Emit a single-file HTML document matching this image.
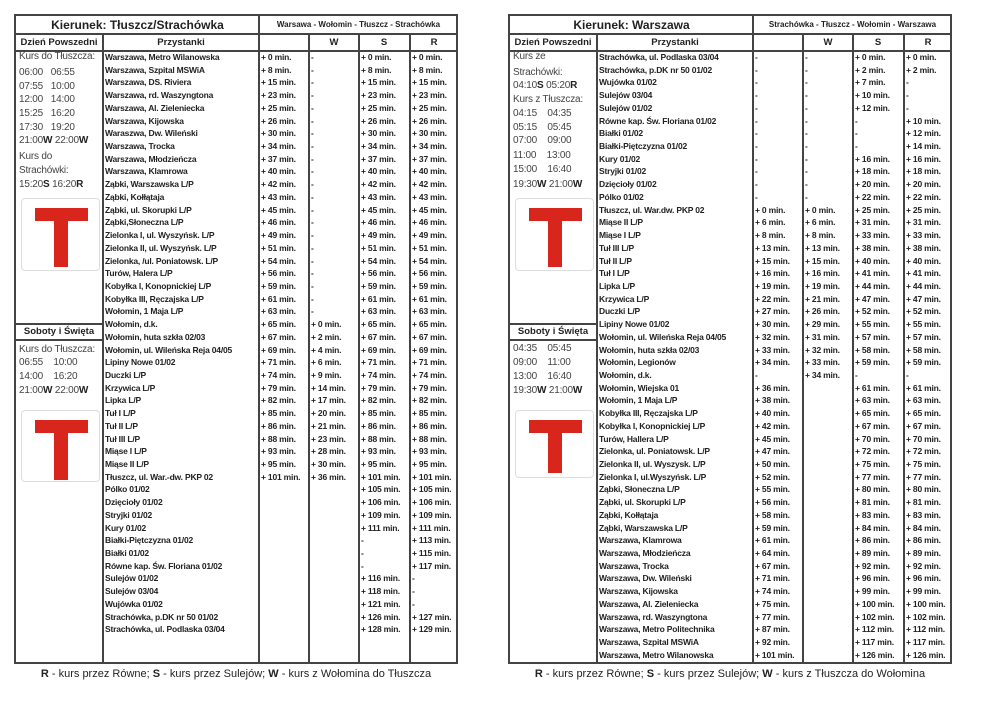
<!DOCTYPE html>
<html><head><meta charset="utf-8"><style>
*{margin:0;padding:0;box-sizing:border-box}
body{width:992px;height:702px;background:#fff;position:relative;font-family:"Liberation Sans",Arial,sans-serif;color:#222;overflow:hidden}
.t{position:absolute;top:14px;width:444px;height:650px;border:2px solid #444}
.vl{position:absolute;top:17px;bottom:0;width:1.5px;background:#444}
.hl{position:absolute;height:1.5px;background:#444}
.h1{position:absolute;top:0;height:18px;line-height:18px;text-align:center;font-weight:bold}
.h2{position:absolute;top:18px;height:17px;line-height:17px;text-align:center;font-weight:bold;font-size:9.5px}
.rows{position:absolute;left:87px;top:35px;right:0}
.r{display:grid;grid-template-columns:156px 50px 50px 51px 50px;height:12.73px;line-height:12.73px;font-size:8.5px;font-weight:bold;white-space:nowrap;letter-spacing:-0.2px}
.r span{padding-left:2px;overflow:hidden}
.lc{position:absolute;left:3px;font-size:10px;color:#444;letter-spacing:-0.2px;white-space:nowrap;line-height:12px}
.lc b{color:#222}
.logo{position:absolute;left:5px;width:79px;border:1px solid #ddd;border-radius:4px;background:#fff}
.bar{position:absolute;background:#d9261c}
.ft{position:absolute;top:668px;width:444px;text-align:center;font-size:11px;color:#222}
</style></head><body>

<!-- LEFT TABLE -->
<div class="t" style="left:14px">
<div class="h1" style="left:0;width:243px;font-size:12px">Kierunek: Tłuszcz/Strachówka</div>
<div class="h1" style="left:243px;width:199px;font-size:8px">Warsawa - Wołomin - Tłuszcz - Strachówka</div>
<div class="hl" style="left:0;right:0;top:17px"></div>
<div class="hl" style="left:0;right:0;top:34px"></div>
<div class="vl" style="left:242px;top:0"></div>
<div class="vl" style="left:86px"></div>
<div class="vl" style="left:292px"></div>
<div class="vl" style="left:342px"></div>
<div class="vl" style="left:393px"></div>
<div class="h2" style="left:0;width:86px">Dzień Powszedni</div>
<div class="h2" style="left:87px;width:156px">Przystanki</div>
<div class="h2" style="left:293px;width:50px">W</div>
<div class="h2" style="left:343px;width:50px">S</div>
<div class="h2" style="left:394px;width:48px">R</div>
<div class="hl" style="left:0;width:87px;top:307px"></div>
<div class="hl" style="left:0;width:87px;top:323px"></div>
<div class="h2" style="left:0;width:86px;top:307px">Soboty i Święta</div>

<div class="lc" style="top:35px">Kurs do Tłuszcza:</div>
<div class="lc" style="top:51px">06:00&nbsp;&nbsp; 06:55</div>
<div class="lc" style="top:65px">07:55&nbsp;&nbsp; 10:00</div>
<div class="lc" style="top:78px">12:00&nbsp;&nbsp; 14:00</div>
<div class="lc" style="top:92px">15:25&nbsp;&nbsp; 16:20</div>
<div class="lc" style="top:106px">17:30&nbsp;&nbsp; 19:20</div>
<div class="lc" style="top:119px">21:00<b>W</b> 22:00<b>W</b></div>
<div class="lc" style="top:135px">Kurs do</div>
<div class="lc" style="top:149px">Strachówki:</div>
<div class="lc" style="top:163px">15:20<b>S</b> 16:20<b>R</b></div>
<div class="lc" style="top:328px">Kurs do Tłuszcza:</div>
<div class="lc" style="top:341px">06:55&nbsp;&nbsp;&nbsp; 10:00</div>
<div class="lc" style="top:355px">14:00&nbsp;&nbsp;&nbsp; 16:20</div>
<div class="lc" style="top:369px">21:00<b>W</b> 22:00<b>W</b></div>

<div class="logo" style="top:182px;height:73px"><div class="bar" style="left:13px;top:9px;width:53px;height:13px"></div><div class="bar" style="left:32px;top:9px;width:14px;height:59px"></div></div>
<div class="logo" style="top:394px;height:72px"><div class="bar" style="left:13px;top:9px;width:53px;height:13px"></div><div class="bar" style="left:32px;top:9px;width:14px;height:60px"></div></div>

<div class="rows">
<div class="r"><span>Warszawa, Metro Wilanowska</span><span>+ 0 min.</span><span>-</span><span>+ 0 min.</span><span>+ 0 min.</span></div>
<div class="r"><span>Warszawa, Szpital MSWiA</span><span>+ 8 min.</span><span>-</span><span>+ 8 min.</span><span>+ 8 min.</span></div>
<div class="r"><span>Warszawa, DS. Riviera</span><span>+ 15 min.</span><span>-</span><span>+ 15 min.</span><span>+ 15 min.</span></div>
<div class="r"><span>Warszawa, rd. Waszyngtona</span><span>+ 23 min.</span><span>-</span><span>+ 23 min.</span><span>+ 23 min.</span></div>
<div class="r"><span>Warszawa, Al. Zieleniecka</span><span>+ 25 min.</span><span>-</span><span>+ 25 min.</span><span>+ 25 min.</span></div>
<div class="r"><span>Warszawa, Kijowska</span><span>+ 26 min.</span><span>-</span><span>+ 26 min.</span><span>+ 26 min.</span></div>
<div class="r"><span>Waraszwa, Dw. Wileński</span><span>+ 30 min.</span><span>-</span><span>+ 30 min.</span><span>+ 30 min.</span></div>
<div class="r"><span>Warszawa, Trocka</span><span>+ 34 min.</span><span>-</span><span>+ 34 min.</span><span>+ 34 min.</span></div>
<div class="r"><span>Warszawa, Młodzieńcza</span><span>+ 37 min.</span><span>-</span><span>+ 37 min.</span><span>+ 37 min.</span></div>
<div class="r"><span>Warszawa, Klamrowa</span><span>+ 40 min.</span><span>-</span><span>+ 40 min.</span><span>+ 40 min.</span></div>
<div class="r"><span>Ząbki, Warszawska L/P</span><span>+ 42 min.</span><span>-</span><span>+ 42 min.</span><span>+ 42 min.</span></div>
<div class="r"><span>Ząbki, Kołłątaja</span><span>+ 43 min.</span><span>-</span><span>+ 43 min.</span><span>+ 43 min.</span></div>
<div class="r"><span>Ząbki, ul. Skorupki L/P</span><span>+ 45 min.</span><span>-</span><span>+ 45 min.</span><span>+ 45 min.</span></div>
<div class="r"><span>Ząbki,Słoneczna L/P</span><span>+ 46 min.</span><span>-</span><span>+ 46 min.</span><span>+ 46 min.</span></div>
<div class="r"><span>Zielonka I, ul. Wyszyńsk. L/P</span><span>+ 49 min.</span><span>-</span><span>+ 49 min.</span><span>+ 49 min.</span></div>
<div class="r"><span>Zielonka II, ul. Wyszyńsk. L/P</span><span>+ 51 min.</span><span>-</span><span>+ 51 min.</span><span>+ 51 min.</span></div>
<div class="r"><span>Zielonka, /ul. Poniatowsk. L/P</span><span>+ 54 min.</span><span>-</span><span>+ 54 min.</span><span>+ 54 min.</span></div>
<div class="r"><span>Turów, Halera L/P</span><span>+ 56 min.</span><span>-</span><span>+ 56 min.</span><span>+ 56 min.</span></div>
<div class="r"><span>Kobyłka I, Konopnickiej L/P</span><span>+ 59 min.</span><span>-</span><span>+ 59 min.</span><span>+ 59 min.</span></div>
<div class="r"><span>Kobyłka III, Ręczajska L/P</span><span>+ 61 min.</span><span>-</span><span>+ 61 min.</span><span>+ 61 min.</span></div>
<div class="r"><span>Wołomin, 1 Maja L/P</span><span>+ 63 min.</span><span>-</span><span>+ 63 min.</span><span>+ 63 min.</span></div>
<div class="r"><span>Wołomin, d.k.</span><span>+ 65 min.</span><span>+ 0 min.</span><span>+ 65 min.</span><span>+ 65 min.</span></div>
<div class="r"><span>Wołomin, huta szkła 02/03</span><span>+ 67 min.</span><span>+ 2 min.</span><span>+ 67 min.</span><span>+ 67 min.</span></div>
<div class="r"><span>Wołomin, ul. Wileńska Reja 04/05</span><span>+ 69 min.</span><span>+ 4 min.</span><span>+ 69 min.</span><span>+ 69 min.</span></div>
<div class="r"><span>Lipiny Nowe 01/02</span><span>+ 71 min.</span><span>+ 6 min.</span><span>+ 71 min.</span><span>+ 71 min.</span></div>
<div class="r"><span>Duczki L/P</span><span>+ 74 min.</span><span>+ 9 min.</span><span>+ 74 min.</span><span>+ 74 min.</span></div>
<div class="r"><span>Krzywica L/P</span><span>+ 79 min.</span><span>+ 14 min.</span><span>+ 79 min.</span><span>+ 79 min.</span></div>
<div class="r"><span>Lipka L/P</span><span>+ 82 min.</span><span>+ 17 min.</span><span>+ 82 min.</span><span>+ 82 min.</span></div>
<div class="r"><span>Tuł I L/P</span><span>+ 85 min.</span><span>+ 20 min.</span><span>+ 85 min.</span><span>+ 85 min.</span></div>
<div class="r"><span>Tuł II L/P</span><span>+ 86 min.</span><span>+ 21 min.</span><span>+ 86 min.</span><span>+ 86 min.</span></div>
<div class="r"><span>Tuł III L/P</span><span>+ 88 min.</span><span>+ 23 min.</span><span>+ 88 min.</span><span>+ 88 min.</span></div>
<div class="r"><span>Miąse I L/P</span><span>+ 93 min.</span><span>+ 28 min.</span><span>+ 93 min.</span><span>+ 93 min.</span></div>
<div class="r"><span>Miąse II L/P</span><span>+ 95 min.</span><span>+ 30 min.</span><span>+ 95 min.</span><span>+ 95 min.</span></div>
<div class="r"><span>Tłuszcz, ul. War.-dw. PKP 02</span><span>+ 101 min.</span><span>+ 36 min.</span><span>+ 101 min.</span><span>+ 101 min.</span></div>
<div class="r"><span>Pólko 01/02</span><span></span><span></span><span>+ 105 min.</span><span>+ 105 min.</span></div>
<div class="r"><span>Dzięcioły 01/02</span><span></span><span></span><span>+ 106 min.</span><span>+ 106 min.</span></div>
<div class="r"><span>Stryjki 01/02</span><span></span><span></span><span>+ 109 min.</span><span>+ 109 min.</span></div>
<div class="r"><span>Kury 01/02</span><span></span><span></span><span>+ 111 min.</span><span>+ 111 min.</span></div>
<div class="r"><span>Białki-Piętczyzna 01/02</span><span></span><span></span><span>-</span><span>+ 113 min.</span></div>
<div class="r"><span>Białki 01/02</span><span></span><span></span><span>-</span><span>+ 115 min.</span></div>
<div class="r"><span>Równe kap. Św. Floriana 01/02</span><span></span><span></span><span>-</span><span>+ 117 min.</span></div>
<div class="r"><span>Sulejów 01/02</span><span></span><span></span><span>+ 116 min.</span><span>-</span></div>
<div class="r"><span>Sulejów 03/04</span><span></span><span></span><span>+ 118 min.</span><span>-</span></div>
<div class="r"><span>Wujówka 01/02</span><span></span><span></span><span>+ 121 min.</span><span>-</span></div>
<div class="r"><span>Strachówka, p.DK nr 50 01/02</span><span></span><span></span><span>+ 126 min.</span><span>+ 127 min.</span></div>
<div class="r"><span>Strachówka, ul. Podlaska 03/04</span><span></span><span></span><span>+ 128 min.</span><span>+ 129 min.</span></div>
</div>
</div>
<div class="ft" style="left:14px"><b>R</b> - kurs przez Równe; <b>S</b> - kurs przez Sulejów; <b>W</b> - kurs z Wołomina do Tłuszcza</div>

<!-- RIGHT TABLE -->
<div class="t" style="left:508px">
<div class="h1" style="left:0;width:243px;font-size:12px">Kierunek: Warszawa</div>
<div class="h1" style="left:243px;width:199px;font-size:8px">Strachówka - Tłuszcz - Wołomin - Warszawa</div>
<div class="hl" style="left:0;right:0;top:17px"></div>
<div class="hl" style="left:0;right:0;top:34px"></div>
<div class="vl" style="left:242px;top:0"></div>
<div class="vl" style="left:86px"></div>
<div class="vl" style="left:292px"></div>
<div class="vl" style="left:342px"></div>
<div class="vl" style="left:393px"></div>
<div class="h2" style="left:0;width:86px">Dzień Powszedni</div>
<div class="h2" style="left:87px;width:156px">Przystanki</div>
<div class="h2" style="left:293px;width:50px">W</div>
<div class="h2" style="left:343px;width:50px">S</div>
<div class="h2" style="left:394px;width:48px">R</div>
<div class="hl" style="left:0;width:87px;top:307px"></div>
<div class="hl" style="left:0;width:87px;top:323px"></div>
<div class="h2" style="left:0;width:86px;top:307px">Soboty i Święta</div>

<div class="lc" style="top:35px">Kurs ze</div>
<div class="lc" style="top:51px">Strachówki:</div>
<div class="lc" style="top:64px">04:10<b>S</b> 05:20<b>R</b></div>
<div class="lc" style="top:78px">Kurs z Tłuszcza:</div>
<div class="lc" style="top:92px">04:15&nbsp;&nbsp;&nbsp; 04:35</div>
<div class="lc" style="top:106px">05:15&nbsp;&nbsp;&nbsp; 05:45</div>
<div class="lc" style="top:119px">07:00&nbsp;&nbsp;&nbsp; 09:00</div>
<div class="lc" style="top:134px">11:00&nbsp;&nbsp;&nbsp; 13:00</div>
<div class="lc" style="top:148px">15:00&nbsp;&nbsp;&nbsp; 16:40</div>
<div class="lc" style="top:163px">19:30<b>W</b> 21:00<b>W</b></div>
<div class="lc" style="top:327px">04:35&nbsp;&nbsp;&nbsp; 05:45</div>
<div class="lc" style="top:341px">09:00&nbsp;&nbsp;&nbsp; 11:00</div>
<div class="lc" style="top:355px">13:00&nbsp;&nbsp;&nbsp; 16:40</div>
<div class="lc" style="top:369px">19:30<b>W</b> 21:00<b>W</b></div>

<div class="logo" style="top:182px;height:73px"><div class="bar" style="left:13px;top:9px;width:53px;height:13px"></div><div class="bar" style="left:32px;top:9px;width:14px;height:59px"></div></div>
<div class="logo" style="top:394px;height:68px"><div class="bar" style="left:13px;top:9px;width:53px;height:13px"></div><div class="bar" style="left:32px;top:9px;width:14px;height:53px"></div></div>

<div class="rows">
<div class="r"><span>Strachówka, ul. Podlaska 03/04</span><span>-</span><span>-</span><span>+ 0 min.</span><span>+ 0 min.</span></div>
<div class="r"><span>Strachówka, p.DK nr 50 01/02</span><span>-</span><span>-</span><span>+ 2 min.</span><span>+ 2 min.</span></div>
<div class="r"><span>Wujówka 01/02</span><span>-</span><span>-</span><span>+ 7 min.</span><span>-</span></div>
<div class="r"><span>Sulejów 03/04</span><span>-</span><span>-</span><span>+ 10 min.</span><span>-</span></div>
<div class="r"><span>Sulejów 01/02</span><span>-</span><span>-</span><span>+ 12 min.</span><span>-</span></div>
<div class="r"><span>Równe kap. Św. Floriana 01/02</span><span>-</span><span>-</span><span>-</span><span>+ 10 min.</span></div>
<div class="r"><span>Białki 01/02</span><span>-</span><span>-</span><span>-</span><span>+ 12 min.</span></div>
<div class="r"><span>Białki-Piętczyzna 01/02</span><span>-</span><span>-</span><span>-</span><span>+ 14 min.</span></div>
<div class="r"><span>Kury 01/02</span><span>-</span><span>-</span><span>+ 16 min.</span><span>+ 16 min.</span></div>
<div class="r"><span>Stryjki 01/02</span><span>-</span><span>-</span><span>+ 18 min.</span><span>+ 18 min.</span></div>
<div class="r"><span>Dzięcioły 01/02</span><span>-</span><span>-</span><span>+ 20 min.</span><span>+ 20 min.</span></div>
<div class="r"><span>Pólko 01/02</span><span>-</span><span>-</span><span>+ 22 min.</span><span>+ 22 min.</span></div>
<div class="r"><span>Tłuszcz, ul. War.dw. PKP 02</span><span>+ 0 min.</span><span>+ 0 min.</span><span>+ 25 min.</span><span>+ 25 min.</span></div>
<div class="r"><span>Miąse II L/P</span><span>+ 6 min.</span><span>+ 6 min.</span><span>+ 31 min.</span><span>+ 31 min.</span></div>
<div class="r"><span>Miąse I L/P</span><span>+ 8 min.</span><span>+ 8 min.</span><span>+ 33 min.</span><span>+ 33 min.</span></div>
<div class="r"><span>Tuł III L/P</span><span>+ 13 min.</span><span>+ 13 min.</span><span>+ 38 min.</span><span>+ 38 min.</span></div>
<div class="r"><span>Tuł II L/P</span><span>+ 15 min.</span><span>+ 15 min.</span><span>+ 40 min.</span><span>+ 40 min.</span></div>
<div class="r"><span>Tuł I L/P</span><span>+ 16 min.</span><span>+ 16 min.</span><span>+ 41 min.</span><span>+ 41 min.</span></div>
<div class="r"><span>Lipka L/P</span><span>+ 19 min.</span><span>+ 19 min.</span><span>+ 44 min.</span><span>+ 44 min.</span></div>
<div class="r"><span>Krzywica L/P</span><span>+ 22 min.</span><span>+ 21 min.</span><span>+ 47 min.</span><span>+ 47 min.</span></div>
<div class="r"><span>Duczki L/P</span><span>+ 27 min.</span><span>+ 26 min.</span><span>+ 52 min.</span><span>+ 52 min.</span></div>
<div class="r"><span>Lipiny Nowe 01/02</span><span>+ 30 min.</span><span>+ 29 min.</span><span>+ 55 min.</span><span>+ 55 min.</span></div>
<div class="r"><span>Wołomin, ul. Wileńska Reja 04/05</span><span>+ 32 min.</span><span>+ 31 min.</span><span>+ 57 min.</span><span>+ 57 min.</span></div>
<div class="r"><span>Wołomin, huta szkła 02/03</span><span>+ 33 min.</span><span>+ 32 min.</span><span>+ 58 min.</span><span>+ 58 min.</span></div>
<div class="r"><span>Wołomin, Legionów</span><span>+ 34 min.</span><span>+ 33 min.</span><span>+ 59 min.</span><span>+ 59 min.</span></div>
<div class="r"><span>Wołomin, d.k.</span><span>-</span><span>+ 34 min.</span><span>-</span><span>-</span></div>
<div class="r"><span>Wołomin, Wiejska 01</span><span>+ 36 min.</span><span></span><span>+ 61 min.</span><span>+ 61 min.</span></div>
<div class="r"><span>Wołomin, 1 Maja L/P</span><span>+ 38 min.</span><span></span><span>+ 63 min.</span><span>+ 63 min.</span></div>
<div class="r"><span>Kobyłka III, Ręczajska L/P</span><span>+ 40 min.</span><span></span><span>+ 65 min.</span><span>+ 65 min.</span></div>
<div class="r"><span>Kobyłka I, Konopnickiej L/P</span><span>+ 42 min.</span><span></span><span>+ 67 min.</span><span>+ 67 min.</span></div>
<div class="r"><span>Turów, Hallera L/P</span><span>+ 45 min.</span><span></span><span>+ 70 min.</span><span>+ 70 min.</span></div>
<div class="r"><span>Zielonka, ul. Poniatowsk. L/P</span><span>+ 47 min.</span><span></span><span>+ 72 min.</span><span>+ 72 min.</span></div>
<div class="r"><span>Zielonka II, ul. Wyszysk. L/P</span><span>+ 50 min.</span><span></span><span>+ 75 min.</span><span>+ 75 min.</span></div>
<div class="r"><span>Zielonka I, ul.Wyszyńsk. L/P</span><span>+ 52 min.</span><span></span><span>+ 77 min.</span><span>+ 77 min.</span></div>
<div class="r"><span>Ząbki, Słoneczna L/P</span><span>+ 55 min.</span><span></span><span>+ 80 min.</span><span>+ 80 min.</span></div>
<div class="r"><span>Ząbki, ul. Skorupki L/P</span><span>+ 56 min.</span><span></span><span>+ 81 min.</span><span>+ 81 min.</span></div>
<div class="r"><span>Ząbki, Kołłątaja</span><span>+ 58 min.</span><span></span><span>+ 83 min.</span><span>+ 83 min.</span></div>
<div class="r"><span>Ząbki, Warszawska L/P</span><span>+ 59 min.</span><span></span><span>+ 84 min.</span><span>+ 84 min.</span></div>
<div class="r"><span>Warszawa, Klamrowa</span><span>+ 61 min.</span><span></span><span>+ 86 min.</span><span>+ 86 min.</span></div>
<div class="r"><span>Warszawa, Młodzieńcza</span><span>+ 64 min.</span><span></span><span>+ 89 min.</span><span>+ 89 min.</span></div>
<div class="r"><span>Warszawa, Trocka</span><span>+ 67 min.</span><span></span><span>+ 92 min.</span><span>+ 92 min.</span></div>
<div class="r"><span>Warszawa, Dw. Wileński</span><span>+ 71 min.</span><span></span><span>+ 96 min.</span><span>+ 96 min.</span></div>
<div class="r"><span>Warszawa, Kijowska</span><span>+ 74 min.</span><span></span><span>+ 99 min.</span><span>+ 99 min.</span></div>
<div class="r"><span>Warszawa, Al. Zieleniecka</span><span>+ 75 min.</span><span></span><span>+ 100 min.</span><span>+ 100 min.</span></div>
<div class="r"><span>Warszawa, rd. Waszyngtona</span><span>+ 77 min.</span><span></span><span>+ 102 min.</span><span>+ 102 min.</span></div>
<div class="r"><span>Warszawa, Metro Politechnika</span><span>+ 87 min.</span><span></span><span>+ 112 min.</span><span>+ 112 min.</span></div>
<div class="r"><span>Warszawa, Szpital MSWiA</span><span>+ 92 min.</span><span></span><span>+ 117 min.</span><span>+ 117 min.</span></div>
<div class="r"><span>Warszawa, Metro Wilanowska</span><span>+ 101 min.</span><span></span><span>+ 126 min.</span><span>+ 126 min.</span></div>
</div>
</div>
<div class="ft" style="left:508px"><b>R</b> - kurs przez Równe; <b>S</b> - kurs przez Sulejów; <b>W</b> - kurs z Tłuszcza do Wołomina</div>

</body></html>
